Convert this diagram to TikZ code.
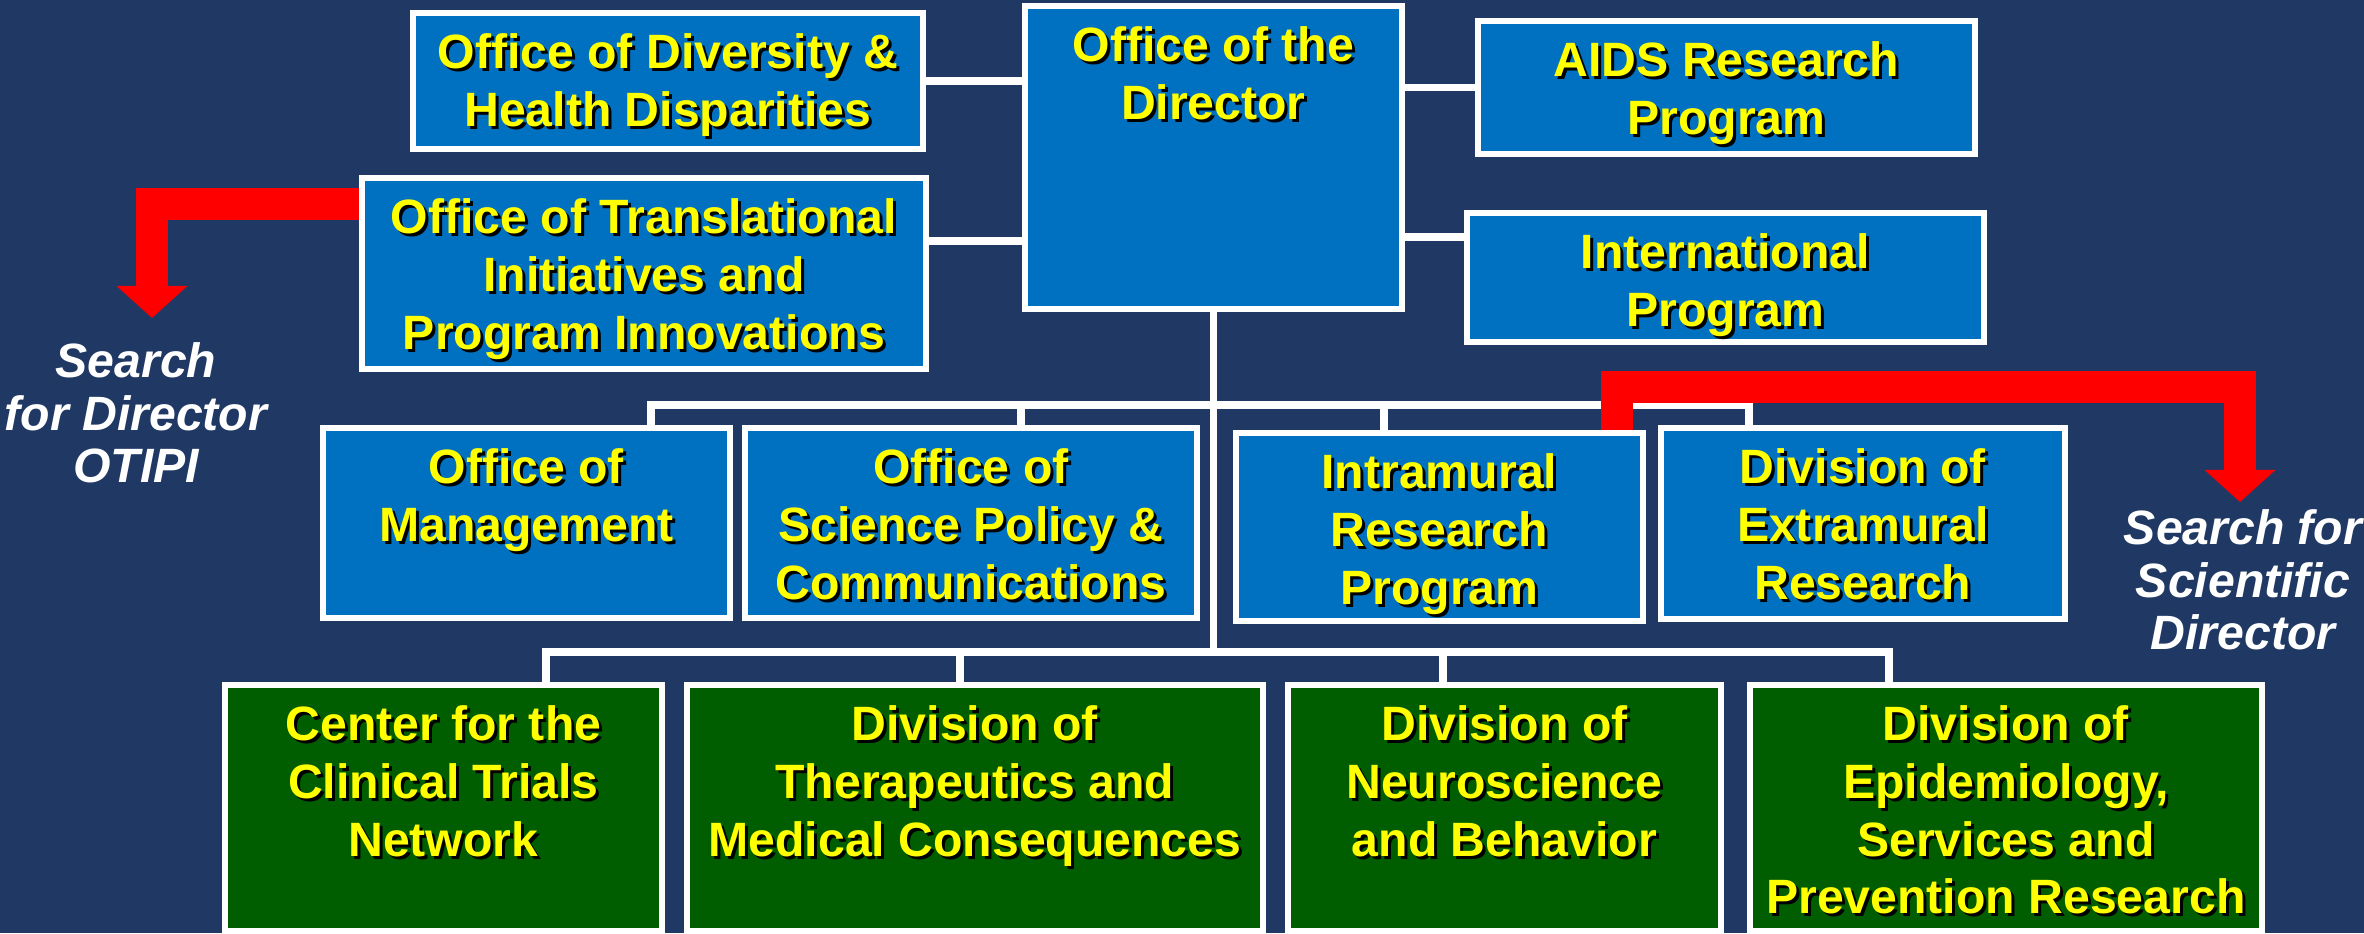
\documentclass[tikz,border=0pt]{standalone}
\usepackage{fontspec}
\setmainfont{Liberation Sans}
\usetikzlibrary{arrows.meta}
\definecolor{nidanavy}{HTML}{203864}
\definecolor{nidablue}{HTML}{0070C0}
\definecolor{nidagreen}{HTML}{005E00}
\definecolor{nidayellow}{HTML}{FFFF00}
\definecolor{nidared}{HTML}{FF0000}

\newcommand{\shd}[1]{\leavevmode\rlap{\hspace{0.03cm}\raisebox{-0.03cm}{\textcolor{black}{#1}}}#1}
\newcommand{\orgtext}[3]{\parbox[c][#2cm][t]{#1cm}{\centering\vspace*{0.21cm}#3}}

\tikzstyle{office}=[inner sep=0, anchor=north west, draw=white, line width=0.055cm, fill=nidablue, text=nidayellow, font=\fontsize{13.7}{16.4}\selectfont\bfseries]
\tikzstyle{division}=[office, fill=nidagreen]
\tikzstyle{link}=[draw=white, line width=0.075cm, line cap=rect]
\tikzstyle{search}=[draw=nidared, line width=0.32cm, line join=miter, -{Triangle[width=0.69cm, length=0.32cm]}]
\tikzstyle{note}=[inner sep=0, anchor=north, align=center, text=white, font=\fontsize{13.7}{14.9}\selectfont\bfseries\itshape]

\begin{document}
\begin{tikzpicture}[x=0.01cm, y=-0.01cm]

\fill [nidanavy] (0, 0) rectangle (2364, 933);
\useasboundingbox (0, 0) rectangle (2364, 933);

\node [office] (odhd)  at (410, 10)   {\orgtext{5.10}{1.36}{\shd{Office of Diversity \&}\\\shd{Health Disparities}}};
\node [office] (dir)   at (1022, 3)   {\orgtext{3.77}{3.03}{\shd{Office of the}\\\shd{Director}}};
\node [office] (aids)  at (1475, 18)  {\orgtext{4.97}{1.33}{\shd{AIDS Research}\\\shd{Program}}};
\node [office] (otipi) at (359, 175)  {\orgtext{5.64}{1.91}{\shd{Office of Translational}\\\shd{Initiatives and}\\\shd{Program Innovations}}};
\node [office] (intl)  at (1464, 210) {\orgtext{5.17}{1.29}{\shd{International}\\\shd{Program}}};

\node [office] (om)    at (320, 425)  {\orgtext{4.07}{1.90}{\shd{Office of}\\\shd{Management}}};
\node [office] (ospc)  at (742, 425)  {\orgtext{4.52}{1.90}{\shd{Office of}\\\shd{Science Policy \&}\\\shd{Communications}}};
\node [office] (irp)   at (1233, 430) {\orgtext{4.07}{1.88}{\shd{Intramural}\\\shd{Research}\\\shd{Program}}};
\node [office] (der)   at (1658, 425) {\orgtext{4.04}{1.91}{\shd{Division of}\\\shd{Extramural}\\\shd{Research}}};

\node [division] (cctn) at (222, 682)  {\orgtext{4.37}{2.46}{\shd{Center for the}\\\shd{Clinical Trials}\\\shd{Network}}};
\node [division] (dtmc) at (684, 682)  {\orgtext{5.76}{2.46}{\shd{Division of}\\\shd{Therapeutics and}\\\shd{Medical Consequences}}};
\node [division] (dnb)  at (1285, 682) {\orgtext{4.33}{2.46}{\shd{Division of}\\\shd{Neuroscience}\\\shd{and Behavior}}};
\node [division] (desp) at (1747, 682) {\orgtext{5.12}{2.46}{\shd{Division of}\\\shd{Epidemiology,}\\\shd{Services and}\\\shd{Prevention Research}}};

\node [note] (otipinote) at (136, 342)  {Search\\for Director\\OTIPI};
\node [note] (sdnote)    at (2243, 509) {Search for\\Scientific\\Director};

% director links
\draw [link] (odhd.east) -- (odhd.east -| dir.west);
\draw [link] (otipi.east |- 0, 241) -- (dir.west |- 0, 241);
\draw [link] (dir.east |- aids.west) -- (aids.west);
\draw [link] (dir.east |- 0, 237) -- (intl.west |- 0, 237);
\draw [link] (dir.south) -- (dir.south |- 0, 652);

% office row
\draw [link] (651, 405) -- (1749, 405);
\foreach \x/\n in {651/om, 1021/ospc, 1384/irp, 1749/der}
  \draw [link] (\x, 405) -- (\n.north -| \x, 0);

% division row
\draw [link] (546, 652) -- (1889, 652);
\foreach \x/\n in {546/cctn, 960/dtmc, 1443/dnb, 1889/desp}
  \draw [link] (\x, 652) -- (\n.north -| \x, 0);

% searches
\coordinate (otipibend) at (152, 204);
\coordinate (otipitip)  at (152, 318);
\coordinate (sdbend)    at (1617, 387);
\coordinate (sdtip)     at (2240, 502);

\draw [search] (otipi.west |- otipibend) -- (otipibend) -- (otipitip);
\draw [search] (irp.north -| sdbend) -- (sdbend) -| (sdtip);

\end{tikzpicture}
\end{document}
